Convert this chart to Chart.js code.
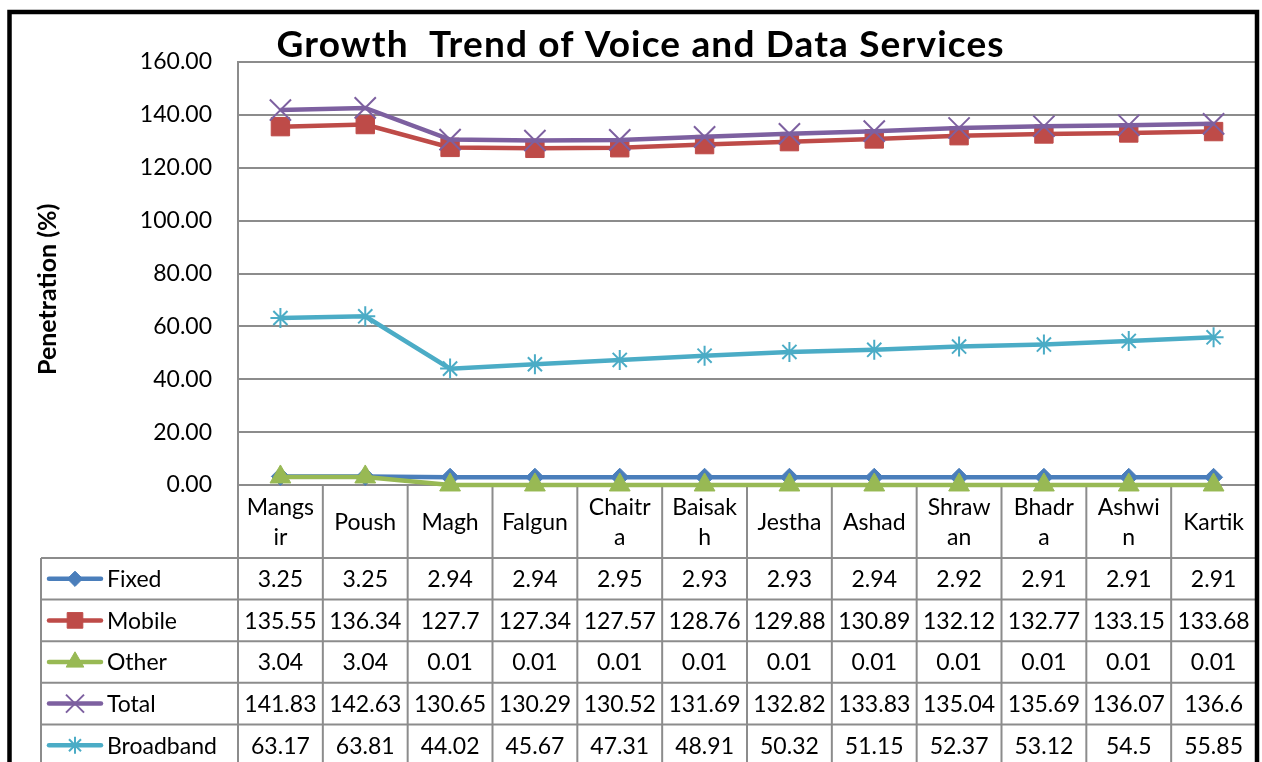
<!DOCTYPE html>
<html>
<head>
<meta charset="utf-8">
<title>Growth Trend of Voice and Data Services</title>
<script src="https://cdn.jsdelivr.net/npm/chart.js@4/dist/chart.umd.min.js"></script>
<style>
  html, body { margin: 0; padding: 0; background: #fff; }
</style>
</head>
<body>
<canvas id="trend-chart" width="1262" height="762"></canvas>
<script>
const months = ['Mangsir', 'Poush', 'Magh', 'Falgun', 'Chaitra', 'Baisakh', 'Jestha', 'Ashad', 'Shrawan', 'Bhadra', 'Ashwin', 'Kartik'];
// month names as they wrap inside the table header
const monthLines = [['Mangs', 'ir'], ['Poush'], ['Magh'], ['Falgun'], ['Chaitr', 'a'], ['Baisak', 'h'], ['Jestha'], ['Ashad'], ['Shraw', 'an'], ['Bhadr', 'a'], ['Ashwi', 'n'], ['Kartik']];

const fixed = [3.25, 3.25, 2.94, 2.94, 2.95, 2.93, 2.93, 2.94, 2.92, 2.91, 2.91, 2.91];
const mobile = [135.55, 136.34, 127.7, 127.34, 127.57, 128.76, 129.88, 130.89, 132.12, 132.77, 133.15, 133.68];
const other = [3.04, 3.04, 0.01, 0.01, 0.01, 0.01, 0.01, 0.01, 0.01, 0.01, 0.01, 0.01];
const total = [141.83, 142.63, 130.65, 130.29, 130.52, 131.69, 132.82, 133.83, 135.04, 135.69, 136.07, 136.6];
const broadband = [63.17, 63.81, 44.02, 45.67, 47.31, 48.91, 50.32, 51.15, 52.37, 53.12, 54.5, 55.85];

const yMin = 0;
const yMax = 160;
const yStep = 20;

const titleText = 'Growth  Trend of Voice and Data Services';
const yTitle = 'Penetration (%)';

const FONT = 'Lato, "Noto Sans", sans-serif';
const gridColor = '#8c8c8c';

function series(label, data, color, style, radius, bw) {
    return {
        label: label,
        data: data,
        borderColor: color,
        backgroundColor: color,
        borderWidth: 4.5,
        tension: 0,
        clip: false,
        pointStyle: style,
        pointRadius: radius,
        pointHoverRadius: radius,
        pointBorderWidth: bw,
        pointBorderColor: color,
        pointBackgroundColor: color
    };
}

const datasets = [
    series('Fixed', fixed, '#4a7ebb', 'rectRot', 9, 1),
    series('Mobile', mobile, '#be4b48', 'rect', 13, 1),
    series('Other', other, '#98b954', 'triangle', 12, 1),
    series('Total', total, '#7d60a0', 'crossRot', 15, 2),
    series('Broadband', broadband, '#4bacc6', 'star', 10, 2)
];
// later series drawn on top, like the original
datasets.forEach((d, i) => { d.order = datasets.length - i; });

// draw text stretched with letter spacing to a target width
function fitText(ctx, text, x, y, width) {
    ctx.letterSpacing = '0px';
    const w = ctx.measureText(text).width;
    const extra = (width - w) / (text.length - 1);
    if (extra > 0 && 'letterSpacing' in ctx) {
        ctx.letterSpacing = extra.toFixed(2) + 'px';
        ctx.fillText(text, x + extra / 2, y);
        ctx.letterSpacing = '0px';
    } else {
        ctx.fillText(text, x, y);
    }
}

const tablePlugin = {
    id: 'dataTable',
    beforeDraw(chart) {
        const ctx = chart.ctx;
        ctx.save();
        ctx.fillStyle = '#fff';
        ctx.fillRect(0, 0, chart.width, chart.height);
        ctx.restore();
    },
    beforeDatasetsDraw(chart) {
        const ctx = chart.ctx;
        const area = chart.chartArea;
        const x = chart.scales.x;
        const colW = (area.right - area.left) / months.length;
        const headTop = area.bottom;
        const headBottom = 558;
        const rowH = 41.6;
        const tableLeft = 41;
        const bottom = chart.height + 10;

        ctx.save();
        ctx.strokeStyle = gridColor;
        ctx.lineWidth = 2;

        // column lines
        for (let i = 0; i <= months.length; i++) {
            const cx = area.left + i * colW;
            ctx.beginPath();
            ctx.moveTo(cx, headTop);
            ctx.lineTo(cx, bottom);
            ctx.stroke();
        }
        // row lines
        for (let r = 0; r <= datasets.length; r++) {
            const ry = headBottom + r * rowH;
            ctx.beginPath();
            ctx.moveTo(tableLeft, ry);
            ctx.lineTo(area.right, ry);
            ctx.stroke();
        }
        ctx.beginPath();
        ctx.moveTo(tableLeft, headBottom);
        ctx.lineTo(tableLeft, bottom);
        ctx.stroke();

        ctx.fillStyle = '#000';
        ctx.font = '23px ' + FONT;
        ctx.textAlign = 'center';
        ctx.textBaseline = 'middle';

        // header with month names
        const headMid = (headTop + headBottom) / 2;
        monthLines.forEach((lines, i) => {
            const cx = x.getPixelForValue(i);
            if (lines.length === 1) {
                ctx.fillText(lines[0], cx, headMid + 1);
            } else {
                ctx.fillText(lines[0], cx, headMid - 14);
                ctx.fillText(lines[1], cx, headMid + 16);
            }
        });

        // series rows: values plus legend key
        datasets.forEach((ds, r) => {
            const cy = headBottom + r * rowH + rowH / 2;
            ctx.fillStyle = '#000';
            ctx.textAlign = 'center';
            ds.data.forEach((v, i) => {
                ctx.fillText(String(v), x.getPixelForValue(i), cy + 1);
            });
            ctx.textAlign = 'left';
            ctx.fillText(ds.label, 107, cy + 1);

            ctx.strokeStyle = ds.borderColor;
            ctx.fillStyle = ds.borderColor;
            ctx.lineWidth = 4.5;
            ctx.lineCap = 'round';
            ctx.beginPath();
            ctx.moveTo(49, cy);
            ctx.lineTo(101, cy);
            ctx.stroke();
            ctx.lineWidth = ds.pointBorderWidth;
            ctx.lineCap = 'butt';
            Chart.helpers.drawPoint(ctx, {
                pointStyle: ds.pointStyle,
                radius: ds.pointRadius * 0.85,
                borderWidth: ds.pointBorderWidth,
                rotation: 0
            }, 75, cy);
        });
        ctx.restore();
    },
    afterDraw(chart) {
        const ctx = chart.ctx;
        ctx.save();
        // title
        ctx.fillStyle = '#000';
        ctx.font = 'bold 37px ' + FONT;
        ctx.textAlign = 'left';
        ctx.textBaseline = 'alphabetic';
        fitText(ctx, titleText, 276, 57, 727);

        // y axis title
        ctx.font = 'bold 25px ' + FONT;
        ctx.translate(56, 375);
        ctx.rotate(-Math.PI / 2);
        fitText(ctx, yTitle, 0, 0, 171);
        ctx.restore();

        // outer frame
        ctx.save();
        ctx.strokeStyle = '#000';
        ctx.lineWidth = 4.5;
        ctx.strokeRect(9.5, 12, 1247.5, 800);
        ctx.restore();
    }
};

new Chart(document.getElementById('trend-chart').getContext('2d'), {
    type: 'line',
    data: {
        labels: months,
        datasets: datasets
    },
    options: {
        responsive: false,
        animation: false,
        layout: {
            autoPadding: false,
            padding: { top: 62, right: 6, bottom: 277, left: 0 }
        },
        plugins: {
            legend: { display: false },
            title: { display: false },
            tooltip: { enabled: false }
        },
        scales: {
            x: {
                display: false,
                offset: true
            },
            y: {
                min: yMin,
                max: yMax,
                afterFit(scale) { scale.width = 238; },
                ticks: {
                    stepSize: yStep,
                    padding: 26,
                    color: '#000',
                    font: { family: FONT, size: 23 },
                    callback: v => v.toFixed(2)
                },
                grid: {
                    color: gridColor,
                    lineWidth: 2,
                    drawTicks: false
                },
                border: {
                    color: gridColor,
                    width: 2
                }
            }
        }
    },
    plugins: [tablePlugin]
});
</script>
</body>
</html>
